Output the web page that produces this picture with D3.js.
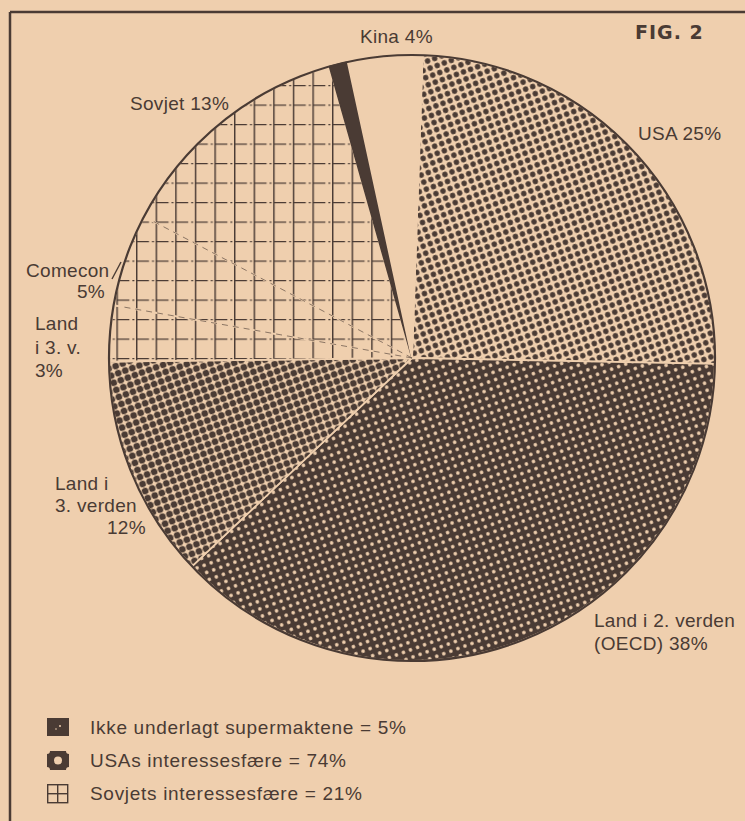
<!DOCTYPE html>
<html>
<head>
<meta charset="utf-8">
<script src="https://cdn.jsdelivr.net/npm/d3@7"></script>
<style>
  body { margin: 0; background: #efcfae; }
  text { font-family: "Liberation Sans", Arial, sans-serif; fill: #4a3b34; }
</style>
</head>
<body>
<div id="chart"></div>
<script>
// slices clockwise from 12 o'clock
var slices = ["USA", "Land i 2. verden (OECD)", "Land i 3. verden", "Land i 3. v.", "Comecon", "Sovjet", "Ikke underlagt (rest)", "Kina"];
var shares = [25, 38, 12, 3, 5, 13, 1, 4];
var sliceLabels = [["USA 25%"], ["Land i 2. verden", "(OECD) 38%"], ["Land i", "3. verden", "12%"], ["Land", "i 3. v.", "3%"], ["Comecon", "5%"], ["Sovjet 13%"], [], ["Kina 4%"]];
var legendLabels = ["Ikke underlagt supermaktene = 5%", "USAs interessesfære = 74%", "Sovjets interessesfære = 21%"];

var paper = "#efcfae", ink = "#4a3b34";
var width = 745, height = 821;
var cx = 412, cy = 358, radius = 303;

var svg = d3.select("#chart").append("svg")
    .attr("width", width)
    .attr("height", height);

svg.append("rect").attr("width", width).attr("height", height).attr("fill", paper);

var defs = svg.append("defs");

function dotPattern(id, r, bg, fg) {
  var p = defs.append("pattern")
      .attr("id", id)
      .attr("patternUnits", "userSpaceOnUse")
      .attr("width", 7.5).attr("height", 7.5)
      .attr("patternTransform", "rotate(-20)");
  p.append("rect").attr("width", 7.5).attr("height", 7.5).attr("fill", bg);
  p.append("circle").attr("cx", 3.75).attr("cy", 3.75).attr("r", r).attr("fill", fg);
}
dotPattern("dots-usa", 2.7, paper, ink);
dotPattern("dots-oecd", 1.8, ink, paper);
dotPattern("dots-l3", 3.3, paper, ink);

var grid = defs.append("pattern")
    .attr("id", "grid")
    .attr("patternUnits", "userSpaceOnUse")
    .attr("x", 18).attr("y", 0)
    .attr("width", 19.6).attr("height", 19.5);
grid.append("rect").attr("width", 19.6).attr("height", 19.5).attr("fill", paper);
grid.append("line").attr("x1", 0.7).attr("x2", 0.7).attr("y1", 0).attr("y2", 19.5)
    .attr("stroke", ink).attr("stroke-width", 1.5);
grid.append("line").attr("x1", 0).attr("x2", 19.6).attr("y1", 0.6).attr("y2", 0.6)
    .attr("stroke", ink).attr("stroke-width", 1.2).attr("stroke-dasharray", "13,3,2,2");

var fills = {
  "USA": "url(#dots-usa)",
  "Land i 2. verden (OECD)": "url(#dots-oecd)",
  "Land i 3. verden": "url(#dots-l3)",
  "Land i 3. v.": "url(#grid)",
  "Comecon": "url(#grid)",
  "Sovjet": "url(#grid)",
  "Ikke underlagt (rest)": ink,
  "Kina": paper
};

// frame (top and left rules of the clipping)
svg.append("line").attr("x1", 10).attr("x2", width).attr("y1", 12).attr("y2", 12)
    .attr("stroke", ink).attr("stroke-width", 2.5);
svg.append("line").attr("x1", 10).attr("x2", 10).attr("y1", 12).attr("y2", height)
    .attr("stroke", ink).attr("stroke-width", 2.5);

var start = 0.035;
var arcs = d3.pie().sort(null).startAngle(start).endAngle(start + 2 * Math.PI)
    .value(function(d) { return d.value; })(shares.map(function(v, i) { return {name: slices[i], value: v}; }));

var arc = d3.arc().innerRadius(0).outerRadius(radius);

var g = svg.append("g").attr("transform", "translate(" + cx + "," + cy + ")");

g.selectAll("path.slice")
    .data(arcs)
  .enter().append("path")
    .attr("class", "slice")
    .attr("d", arc)
    .attr("fill", function(d) { return fills[d.data.name]; })
    .attr("stroke", function(d) { return d.data.name === "Ikke underlagt (rest)" ? ink : paper; })
    .attr("stroke-width", function(d) { return d.data.name === "Ikke underlagt (rest)" ? 1.5 : 1.8; });

// faint dashed dividers inside the Soviet grid
g.selectAll("line.divider")
    .data(arcs.filter(function(d) { return d.data.name === "Comecon" || d.data.name === "Sovjet"; }))
  .enter().append("line")
    .attr("class", "divider")
    .attr("x1", 0).attr("y1", 0)
    .attr("x2", function(d) { return Math.sin(d.startAngle) * radius * 0.97; })
    .attr("y2", function(d) { return -Math.cos(d.startAngle) * radius * 0.97; })
    .attr("stroke", ink).attr("stroke-width", 1).attr("stroke-dasharray", "6,5").attr("opacity", 0.6);

g.append("circle").attr("r", radius).attr("fill", "none").attr("stroke", ink).attr("stroke-width", 2.2);

// labels
var labelPos = {
  "USA": {x: 638, y: 140},
  "Land i 2. verden (OECD)": {x: 594, y: 627},
  "Land i 3. verden": {x: 55, y: 490},
  "Land i 3. v.": {x: 35, y: 330},
  "Comecon": {x: 26, y: 277},
  "Sovjet": {x: 130, y: 110},
  "Kina": {x: 360, y: 43}
};
var lineGap = {"Land i 2. verden (OECD)": 23, "Land i 3. verden": 22, "Land i 3. v.": 23.5, "Comecon": 21};

slices.forEach(function(name, i) {
  var pos = labelPos[name];
  if (!pos) return;
  var t = svg.append("text")
      .attr("x", pos.x).attr("y", pos.y)
      .attr("font-size", 19)
      .style("letter-spacing", "0.3px");
  sliceLabels[i].forEach(function(s, j) {
    var ts = t.append("tspan").attr("x", pos.x).attr("y", pos.y + j * (lineGap[name] || 22)).text(s);
    if (name === "Land i 3. verden" && j === 2) ts.attr("x", 107);
    if (name === "Comecon" && j === 1) ts.attr("x", 77);
  });
});

// Comecon pointer
svg.append("line").attr("x1", 112).attr("y1", 279).attr("x2", 121).attr("y2", 262)
    .attr("stroke", ink).attr("stroke-width", 1.4);

svg.append("text")
    .attr("x", 635).attr("y", 39)
    .attr("font-size", 19)
    .attr("font-weight", "bold")
    .style("font-family", "'DejaVu Sans', sans-serif")
    .style("letter-spacing", "1px")
    .text("FIG. 2");

// legend
var legend = svg.selectAll("g.legend")
    .data(legendLabels)
  .enter().append("g")
    .attr("class", "legend")
    .attr("transform", function(d, i) { return "translate(47," + (718 + i * 33) + ")"; });

legend.append("text")
    .attr("x", 43).attr("y", 16)
    .attr("font-size", 19)
    .style("letter-spacing", "0.7px")
    .text(function(d) { return d; });

legend.each(function(d, i) {
  var s = d3.select(this);
  if (i === 0) {
    s.append("rect").attr("width", 22).attr("height", 18).attr("fill", ink);
    s.append("circle").attr("cx", 13).attr("cy", 8).attr("r", 1).attr("fill", paper);
    s.append("circle").attr("cx", 9).attr("cy", 11).attr("r", 0.8).attr("fill", paper);
  } else if (i === 1) {
    s.append("rect").attr("width", 22).attr("height", 19).attr("fill", ink);
    s.append("circle").attr("cx", 11).attr("cy", 9.5).attr("r", 4).attr("fill", paper);
    s.append("circle").attr("cx", 0).attr("cy", 0).attr("r", 3).attr("fill", paper);
    s.append("circle").attr("cx", 22).attr("cy", 0).attr("r", 3).attr("fill", paper);
    s.append("circle").attr("cx", 0).attr("cy", 19).attr("r", 3).attr("fill", paper);
    s.append("circle").attr("cx", 22).attr("cy", 19).attr("r", 3).attr("fill", paper);
  } else {
    s.append("rect").attr("x", 0.7).attr("y", 0.7).attr("width", 20).attr("height", 18)
        .attr("fill", "none").attr("stroke", ink).attr("stroke-width", 1.4);
    s.append("line").attr("x1", 10.7).attr("x2", 10.7).attr("y1", 0.7).attr("y2", 18.7)
        .attr("stroke", ink).attr("stroke-width", 1.4);
    s.append("line").attr("x1", 0.7).attr("x2", 20.7).attr("y1", 9.7).attr("y2", 9.7)
        .attr("stroke", ink).attr("stroke-width", 1.4);
  }
});
</script>
</body>
</html>
